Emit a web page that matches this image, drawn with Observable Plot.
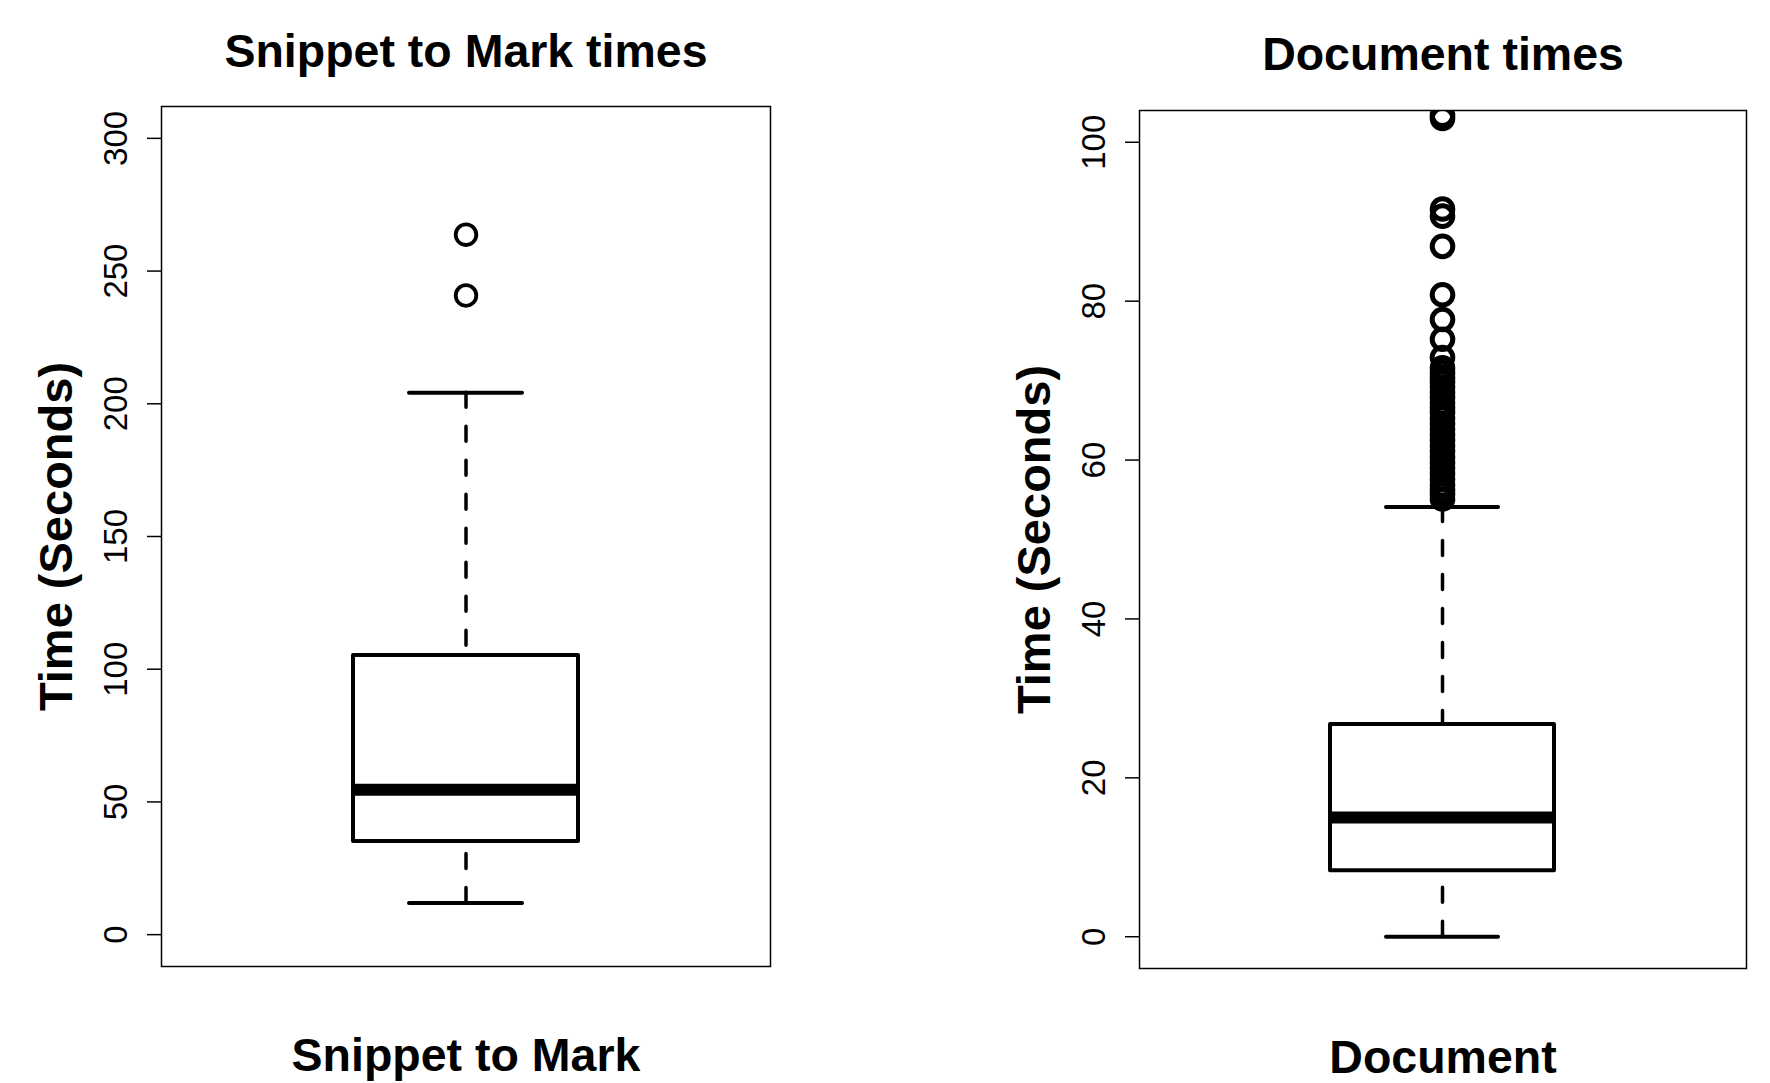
<!DOCTYPE html>
<html><head><meta charset="utf-8">
<script src="https://cdn.jsdelivr.net/npm/d3@7"></script>
<script src="https://cdn.jsdelivr.net/npm/@observablehq/plot@0.6"></script>
<style>
html,body{margin:0;padding:0;background:#fff;}
#wrap{position:relative;width:1770px;height:1083px;overflow:hidden;background:#fff;}
.panel{position:absolute;top:0;}
</style></head><body><div id="wrap"></div>
<script>
// ---- data ----
const categories = ["Snippet to Mark", "Document"];
const titles = ["Snippet to Mark times", "Document times"];
const yLabel = "Time (Seconds)";
const q1 = [35.1, 8.3];
const medians = [54.6, 15.0];
const q3 = [105.2, 26.7];
const whiskerLow = [11.9, 0];
const whiskerHigh = [204.2, 54.1];
const snippetOutliers = [240.8, 263.7];
const documentOutliers = [103.4, 103.0, 91.6, 90.7, 86.9, 80.8, 77.7, 75.2, 72.9, 71.6, 71.0, 70.4, 69.8, 69.2,
  68.5, 67.9, 67.2, 66.6, 66.0, 65.3, 64.6, 63.9, 63.2, 62.5, 61.8, 61.1, 60.4, 59.7, 59.0, 58.3, 57.6,
  56.9, 56.3, 55.7, 55.1];
const yLimits = [[0, 300], [0, 100]];
const yTicks = [[0, 50, 100, 150, 200, 250, 300], [0, 20, 40, 60, 80, 100]];

// ---- layout ----
const FONT = "'Liberation Sans', Arial, Helvetica, sans-serif";
const H = 1083;
const layout = [
  {left: 0, width: 885, marginLeft: 161, marginRight: 115, marginTop: 106, marginBottom: 117, titleBase: 66, xlabBase: 1070, circleStroke: 3.8},
  {left: 885, width: 885, marginLeft: 254, marginRight: 24, marginTop: 110, marginBottom: 115, titleBase: 69, xlabBase: 1072, circleStroke: 5}
];
const outliers = [snippetOutliers, documentOutliers];

const wrap = document.getElementById("wrap");

categories.forEach((cat, i) => {
  const L = layout[i];
  const [lo, hi] = yLimits[i];
  const ext = (hi - lo) * 0.04;
  const stats = [{cat, q1: q1[i], med: medians[i], q3: q3[i], wl: whiskerLow[i], wh: whiskerHigh[i]}];
  const outs = outliers[i].map(v => ({cat, v}));
  const chart = Plot.plot({
    width: L.width,
    height: H,
    marginLeft: L.marginLeft,
    marginRight: L.marginRight,
    marginTop: L.marginTop,
    marginBottom: L.marginBottom,
    style: {fontFamily: FONT, background: "white", color: "black", overflow: "visible"},
    x: {domain: [cat], padding: 0.46, axis: null},
    y: {domain: [lo - ext, hi + ext], axis: null},
    marks: [
      Plot.axisY({ticks: yTicks[i], tickSize: 14, tickFormat: () => "", stroke: "black", strokeWidth: 1.5, label: null}),
      Plot.text(yTicks[i], {y: d => d, text: d => String(d), frameAnchor: "left", dx: -35, rotate: -90,
        lineAnchor: "bottom", textAnchor: "middle", fontSize: 33, fill: "black"}),
      // whiskers (dashed), drawn from the whisker end toward the box
      Plot.ruleX(stats, {x: "cat", y1: "wh", y2: "q3", stroke: "black", strokeWidth: 3.5, strokeDasharray: "15,19", strokeLinecap: "round"}),
      Plot.ruleX(stats, {x: "cat", y1: "wl", y2: "q1", stroke: "black", strokeWidth: 3.5, strokeDasharray: "15,19", strokeLinecap: "round"}),
      // whisker caps
      Plot.tickY(stats, {x: "cat", y: "wh", stroke: "black", strokeWidth: 4, insetLeft: 56, insetRight: 56, strokeLinecap: "round"}),
      Plot.tickY(stats, {x: "cat", y: "wl", stroke: "black", strokeWidth: 4, insetLeft: 56, insetRight: 56, strokeLinecap: "round"}),
      // box
      Plot.barY(stats, {x: "cat", y1: "q1", y2: "q3", fill: "white", stroke: "black", strokeWidth: 4, strokeLinejoin: "round"}),
      // median
      Plot.tickY(stats, {x: "cat", y: "med", stroke: "black", strokeWidth: 12}),
      // outliers
      Plot.dot(outs, {x: "cat", y: "v", r: 10.3, fill: "none", stroke: "black", strokeWidth: L.circleStroke, clip: true}),
      Plot.frame({stroke: "black", strokeWidth: 1.5}),
      // titles and labels
      Plot.text([titles[i]], {text: d => d, frameAnchor: "top", dy: L.titleBase - L.marginTop, lineAnchor: "bottom",
        fontSize: 46.5, fontWeight: "bold", fill: "black"}),
      Plot.text([cat], {text: d => d, frameAnchor: "bottom", dy: L.xlabBase - (H - L.marginBottom), lineAnchor: "bottom",
        fontSize: 46.5, fontWeight: "bold", fill: "black"}),
      Plot.text([yLabel], {text: d => d, frameAnchor: "left", dx: -90, rotate: -90, lineAnchor: "bottom", textAnchor: "middle",
        fontSize: 47, fontWeight: "bold", fill: "black"})
    ]
  });
  const div = document.createElement("div");
  div.className = "panel";
  div.style.left = L.left + "px";
  div.appendChild(chart);
  wrap.appendChild(div);
});
</script>
</body></html>
